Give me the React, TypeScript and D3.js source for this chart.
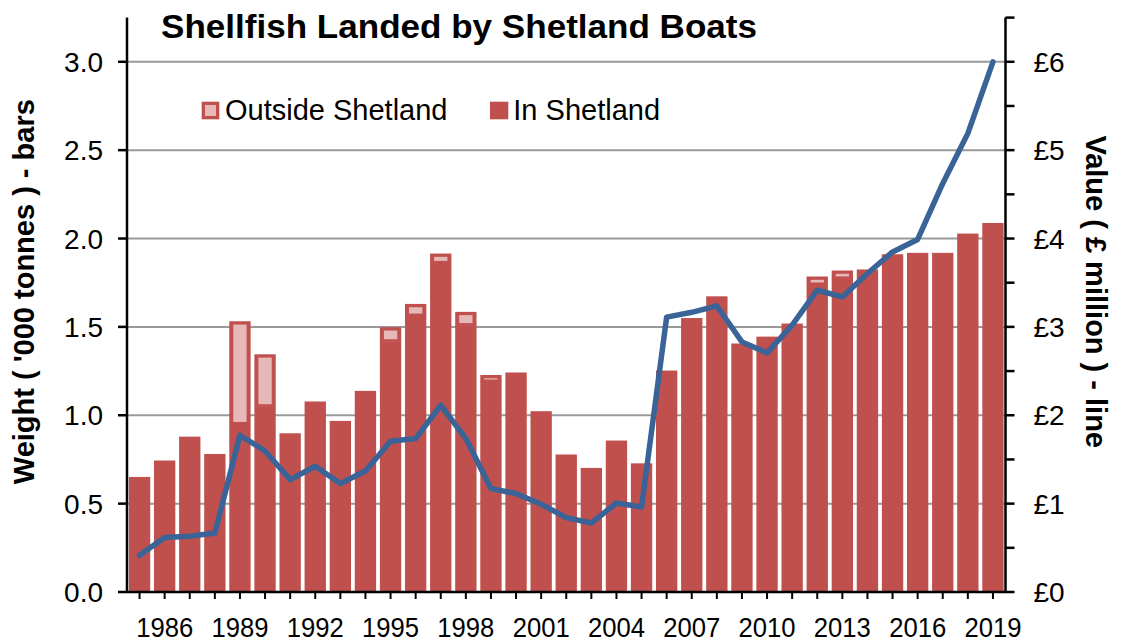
import React from "react";
import * as d3 from "d3";

const years = [
  1985, 1986, 1987, 1988, 1989, 1990, 1991, 1992, 1993, 1994, 1995, 1996,
  1997, 1998, 1999, 2000, 2001, 2002, 2003, 2004, 2005, 2006, 2007, 2008,
  2009, 2010, 2011, 2012, 2013, 2014, 2015, 2016, 2017, 2018, 2019,
];

// '000 tonnes landed in Shetland
const inShetland = [
  0.651, 0.744, 0.879, 0.781, 0.951, 1.051, 0.898, 1.078, 0.968, 1.138, 1.419,
  1.564, 1.862, 1.51, 1.191, 1.242, 1.023, 0.778, 0.702, 0.857, 0.728, 1.253,
  1.55, 1.673, 1.406, 1.445, 1.519, 1.74, 1.774, 1.825, 1.911, 1.919, 1.919,
  2.028, 2.088,
];

// '000 tonnes landed outside Shetland
const outsideShetland = [
  0, 0, 0, 0, 0.581, 0.294, 0, 0, 0, 0, 0.079, 0.066, 0.053, 0.075, 0.037, 0,
  0, 0, 0, 0, 0, 0, 0, 0, 0, 0, 0, 0.045, 0.045, 0, 0, 0, 0, 0, 0,
];

// £ million
const valueMillion = [
  0.415, 0.616, 0.63, 0.668, 1.774, 1.596, 1.272, 1.423, 1.227, 1.37, 1.706,
  1.736, 2.113, 1.736, 1.17, 1.114, 0.993, 0.842, 0.781, 1.007, 0.962, 3.11,
  3.165, 3.237, 2.83, 2.705, 3.019, 3.415, 3.339, 3.604, 3.848, 3.989, 4.623,
  5.19, 6.0,
];

const leftTicks = [0, 0.5, 1.0, 1.5, 2.0, 2.5, 3.0];
const rightTicks = [0, 1, 2, 3, 4, 5, 6];
const rightMinorTicks = [0.5, 1.5, 2.5, 3.5, 4.5, 5.5, 6.5];
const labelYears = [1986, 1989, 1992, 1995, 1998, 2001, 2004, 2007, 2010, 2013, 2016, 2019];

const title = "Shellfish Landed by Shetland Boats";
const leftTitle = "Weight ( '000 tonnes ) - bars";
const rightTitle = "Value ( \u00a3 million ) - line";
const legendOutside = "Outside Shetland";
const legendIn = "In Shetland";

const W = 1127;
const H = 641;
const X0 = 127;
const X1 = 1005.5;
const Y0 = 592;
const YTOP = 17.6;

const RED = "#C0504D";
const PINK = "#E6B9B8";
const BLUE = "#3A6397";
const GRID = "#9A9A9A";
const FONT = "'Liberation Sans', Arial, Helvetica, sans-serif";

export default function App() {
  const x = d3
    .scaleBand<number>()
    .domain(years)
    .range([X0, X1])
    .paddingInner(0.15)
    .paddingOuter(0.075);
  const yL = d3.scaleLinear().domain([0, 3.25]).range([Y0, YTOP]);
  const yR = d3.scaleLinear().domain([0, 6.5]).range([Y0, YTOP]);
  const cx = (yr: number) => (x(yr) as number) + x.bandwidth() / 2;
  const bw = x.bandwidth();

  const line = d3
    .line<number>()
    .x((_, i) => cx(years[i]))
    .y((d) => yR(d));

  return (
    <svg
      width={W}
      height={H}
      style={{ position: "absolute", left: 0, top: 0, background: "#fff" }}
      fontFamily={FONT}
    >
      <rect x={0} y={0} width={W} height={H} fill="#fff" />
      {/* gridlines */}
      {leftTicks
        .filter((t) => t > 0)
        .map((t) => (
          <line
            key={"g" + t}
            x1={X0}
            x2={X1}
            y1={yL(t)}
            y2={yL(t)}
            stroke={GRID}
            strokeWidth={2}
          />
        ))}
      {/* bars */}
      {years.map((yr, i) => {
        const inTop = yL(inShetland[i]);
        const outTop = yL(inShetland[i] + outsideShetland[i]);
        const bx = x(yr) as number;
        const segH = inTop - outTop;
        const innerH = Math.max(0, segH - 5.3);
        return (
          <g key={"b" + yr}>
            <rect x={bx} y={inTop} width={bw} height={Y0 - inTop} fill={RED} />
            {outsideShetland[i] > 0 && (
              <>
                <rect x={bx} y={outTop} width={bw} height={segH + 0.5} fill={RED} />
                {innerH > 0 && (
                  <rect x={bx + 4} y={outTop + 3.3} width={bw - 8} height={innerH} fill={PINK} />
                )}
              </>
            )}
          </g>
        );
      })}
      {/* line */}
      <path
        d={line(valueMillion) || ""}
        fill="none"
        stroke={BLUE}
        strokeWidth={5.5}
        strokeLinejoin="round"
        strokeLinecap="round"
      />
      {/* axes */}
      <line x1={X0} x2={X0} y1={YTOP} y2={Y0 + 1} stroke="#000" strokeWidth={2.5} />
      <line x1={X1} x2={X1} y1={YTOP} y2={Y0 + 1} stroke="#000" strokeWidth={2.5} />
      <line x1={X0} x2={X1} y1={Y0} y2={Y0} stroke="#000" strokeWidth={2.5} />
      {leftTicks.map((t) => (
        <g key={"lt" + t}>
          <line x1={X0 - 9} x2={X0} y1={yL(t)} y2={yL(t)} stroke="#000" strokeWidth={2.5} />
          <text x={X0 - 24} y={yL(t) + 10} textAnchor="end" fontSize={28} fill="#000">
            {d3.format(".1f")(t)}
          </text>
        </g>
      ))}
      {rightTicks.map((t) => (
        <g key={"rt" + t}>
          <line x1={X1} x2={X1 + 9} y1={yR(t)} y2={yR(t)} stroke="#000" strokeWidth={2.5} />
          <text x={X1 + 28} y={yR(t) + 10} textAnchor="start" fontSize={28} fill="#000">
            {"\u00a3" + t}
          </text>
        </g>
      ))}
      {rightMinorTicks.map((t) => (
        <line key={"rm" + t} x1={X1} x2={X1 + 9} y1={yR(t)} y2={yR(t)} stroke="#000" strokeWidth={2.5} />
      ))}
      {years.map((yr) => (
        <line key={"xt" + yr} x1={cx(yr)} x2={cx(yr)} y1={Y0} y2={Y0 + 7} stroke="#000" strokeWidth={2} />
      ))}
      {labelYears.map((yr) => (
        <text
          key={"xl" + yr}
          x={cx(yr)}
          y={636.5}
          textAnchor="middle"
          fontSize={27}
          textLength={57}
          lengthAdjust="spacingAndGlyphs"
          fill="#000"
        >
          {yr}
        </text>
      ))}
      {/* titles */}
      <text
        x={161}
        y={38}
        fontSize={33}
        fontWeight="bold"
        fill="#000"
        textLength={596}
        lengthAdjust="spacingAndGlyphs"
      >
        {title}
      </text>
      <text
        transform={`translate(33.5,${291.7}) rotate(-90)`}
        textAnchor="middle"
        fontSize={29}
        fontWeight="bold"
        fill="#000"
      >
        {leftTitle}
      </text>
      <text
        transform={`translate(1086,${291.7}) rotate(90)`}
        textAnchor="middle"
        fontSize={29}
        fontWeight="bold"
        fill="#000"
      >
        {rightTitle}
      </text>
      {/* legend */}
      <rect x={201.7} y={101.7} width={17.6} height={17.6} fill={RED} />
      <rect x={205} y={105} width={11} height={11} fill={PINK} />
      <text x={225} y={119.5} fontSize={29} fill="#000">
        {legendOutside}
      </text>
      <rect x={490} y={101.7} width={18.3} height={17.6} fill={RED} />
      <text x={513.3} y={119.5} fontSize={29} fill="#000">
        {legendIn}
      </text>
    </svg>
  );
}
